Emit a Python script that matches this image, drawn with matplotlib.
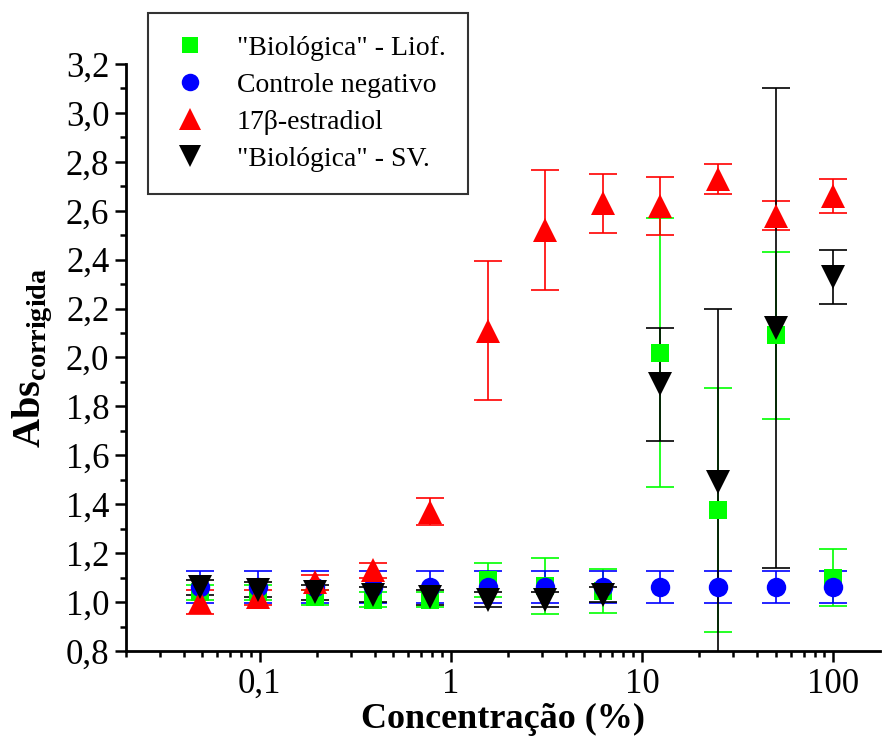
import matplotlib
matplotlib.use('Agg')
import matplotlib.pyplot as plt
from matplotlib.ticker import FixedLocator, FixedFormatter, MultipleLocator, LogLocator, NullFormatter

plt.rcParams['font.family'] = ['Liberation Serif', 'DejaVu Serif']
plt.rcParams['mathtext.fontset'] = 'custom'
plt.rcParams['mathtext.rm'] = 'Liberation Serif'
plt.rcParams['mathtext.bf'] = 'Liberation Serif:bold'

# concentrations (%)
conc = [0.048828, 0.097656, 0.195313, 0.390625, 0.78125, 1.5625,
        3.125, 6.25, 12.5, 25, 50, 100]

liof = [1.04, 1.04, 1.02, 1.01, 1.01, 1.09, 1.065, 1.045, 2.02, 1.376, 2.09, 1.10]
liof_err = [0.03, 0.03, 0.03, 0.03, 0.03, 0.07, 0.115, 0.09, 0.55, 0.50, 0.34, 0.115]

controle = [1.06] * 12
controle_err = [0.065] * 12

estradiol = [1.00, 1.02, 1.08, 1.13, 1.37, 2.11, 2.52, 2.63, 2.62, 2.73, 2.58, 2.66]
estradiol_err = [0.05, 0.03, 0.03, 0.03, 0.055, 0.285, 0.245, 0.12, 0.12, 0.06, 0.06, 0.07]

sv = [1.06, 1.05, 1.04, 1.03, 1.02, 1.01, 1.01, 1.03, 1.89, 1.49, 2.12, 2.33]
sv_err = [0.03, 0.03, 0.03, 0.03, 0.03, 0.03, 0.03, 0.03, 0.23, 0.71, 0.98, 0.11]

x_ticks = [0.1, 1, 10, 100]
x_labels = ['0,1', '1', '10', '100']
y_ticks = [0.8, 1.0, 1.2, 1.4, 1.6, 1.8, 2.0, 2.2, 2.4, 2.6, 2.8, 3.0, 3.2]
y_labels = ['0,8', '1,0', '1,2', '1,4', '1,6', '1,8', '2,0', '2,2', '2,4', '2,6', '2,8', '3,0', '3,2']

fig = plt.figure(figsize=(8.84, 7.40), dpi=100)
ax = fig.add_axes([0.1425, 0.1203, 0.8525, 0.7932])

series = [
    (liof, liof_err, 's', '#00ff00', 12.5, '"Biológica" - Liof.'),
    (controle, controle_err, 'o', '#0000ff', 14, 'Controle negativo'),
    (estradiol, estradiol_err, '^', '#ff0000', 17, '17β-estradiol'),
    (sv, sv_err, 'v', '#000000', 17, '"Biológica" - SV.'),
]
handles = []
for vals, errs, mk, col, ms, lab in series:
    line, caps, bars = ax.errorbar(conc, vals, yerr=errs, fmt=mk, color=col, ecolor=col,
                                   markersize=ms, elinewidth=1.2,
                                   capsize=10, capthick=1.2, label=lab)
    line.set_markeredgewidth(0)
    handles.append(line)

ax.set_xscale('log')
ax.set_xlim(0.02, 175)
ax.set_ylim(0.8, 3.2)

ax.xaxis.set_major_locator(FixedLocator(x_ticks))
ax.xaxis.set_major_formatter(FixedFormatter(x_labels))
ax.xaxis.set_minor_locator(LogLocator(base=10, subs=range(2, 10)))
ax.xaxis.set_minor_formatter(NullFormatter())
ax.yaxis.set_major_locator(FixedLocator(y_ticks))
ax.yaxis.set_major_formatter(FixedFormatter(y_labels))
ax.yaxis.set_minor_locator(MultipleLocator(0.1))

for s in ['top', 'right']:
    ax.spines[s].set_visible(False)
for s in ['left', 'bottom']:
    ax.spines[s].set_linewidth(2)

ax.tick_params(which='major', direction='out', length=8, width=1.8, labelsize=25, pad=4)
ax.tick_params(which='minor', direction='out', length=4.5, width=1.8)

ax.set_xlabel('Concentração (%)', fontsize=26, fontweight='bold', labelpad=2)
ax.set_ylabel(r'$\mathbf{Abs}_{\mathbf{corrigida}}$', fontsize=29, labelpad=8)

leg = fig.legend(handles, [s[5] for s in series], loc='upper left',
                 bbox_to_anchor=(148 / 884, 1 - 13 / 740),
                 bbox_transform=fig.transFigure, borderaxespad=0,
                 fontsize=20, frameon=True, fancybox=False, edgecolor='black',
                 markerscale=0.9, handlelength=1.4, handletextpad=1.0,
                 labelspacing=0.42, borderpad=0.8)
leg.get_frame().set_linewidth(1.5)

fig.savefig('out.png', dpi=100)
